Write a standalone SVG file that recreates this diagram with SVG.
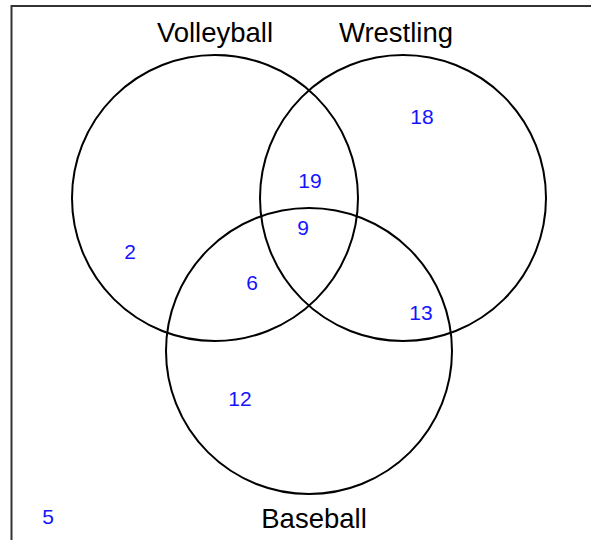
<svg xmlns="http://www.w3.org/2000/svg" width="591" height="540" viewBox="0 0 591 540">
<style>
.frame{fill:none;stroke:#333;stroke-width:2}
.set{fill:none;stroke:#000;stroke-width:2}
.lbl{font-family:"Liberation Sans",Arial,sans-serif;font-size:27.5px;fill:#000;text-anchor:middle}
.num{font-family:"Liberation Sans",Arial,sans-serif;font-size:21px;fill:#1414ff;text-anchor:middle}
</style>
<rect width="591" height="540" fill="#fff"/>
<path class="frame" d="M11.5 541 V6 H592"/>
<g id="volleyball">
<circle class="set" cx="215" cy="198" r="143"/>
<text class="lbl" x="215" y="42">Volleyball</text>
</g>
<g id="wrestling">
<circle class="set" cx="403" cy="198" r="143"/>
<text class="lbl" x="396" y="42">Wrestling</text>
</g>
<g id="baseball">
<circle class="set" cx="309" cy="351" r="143"/>
<text class="lbl" x="314" y="528">Baseball</text>
</g>
<g id="counts">
<text class="num" x="130" y="259">2</text>
<text class="num" x="422" y="124">18</text>
<text class="num" x="310" y="188">19</text>
<text class="num" x="303" y="235">9</text>
<text class="num" x="252" y="290">6</text>
<text class="num" x="421" y="320">13</text>
<text class="num" x="240" y="406">12</text>
<text class="num" x="48" y="524">5</text>
</g>
</svg>
